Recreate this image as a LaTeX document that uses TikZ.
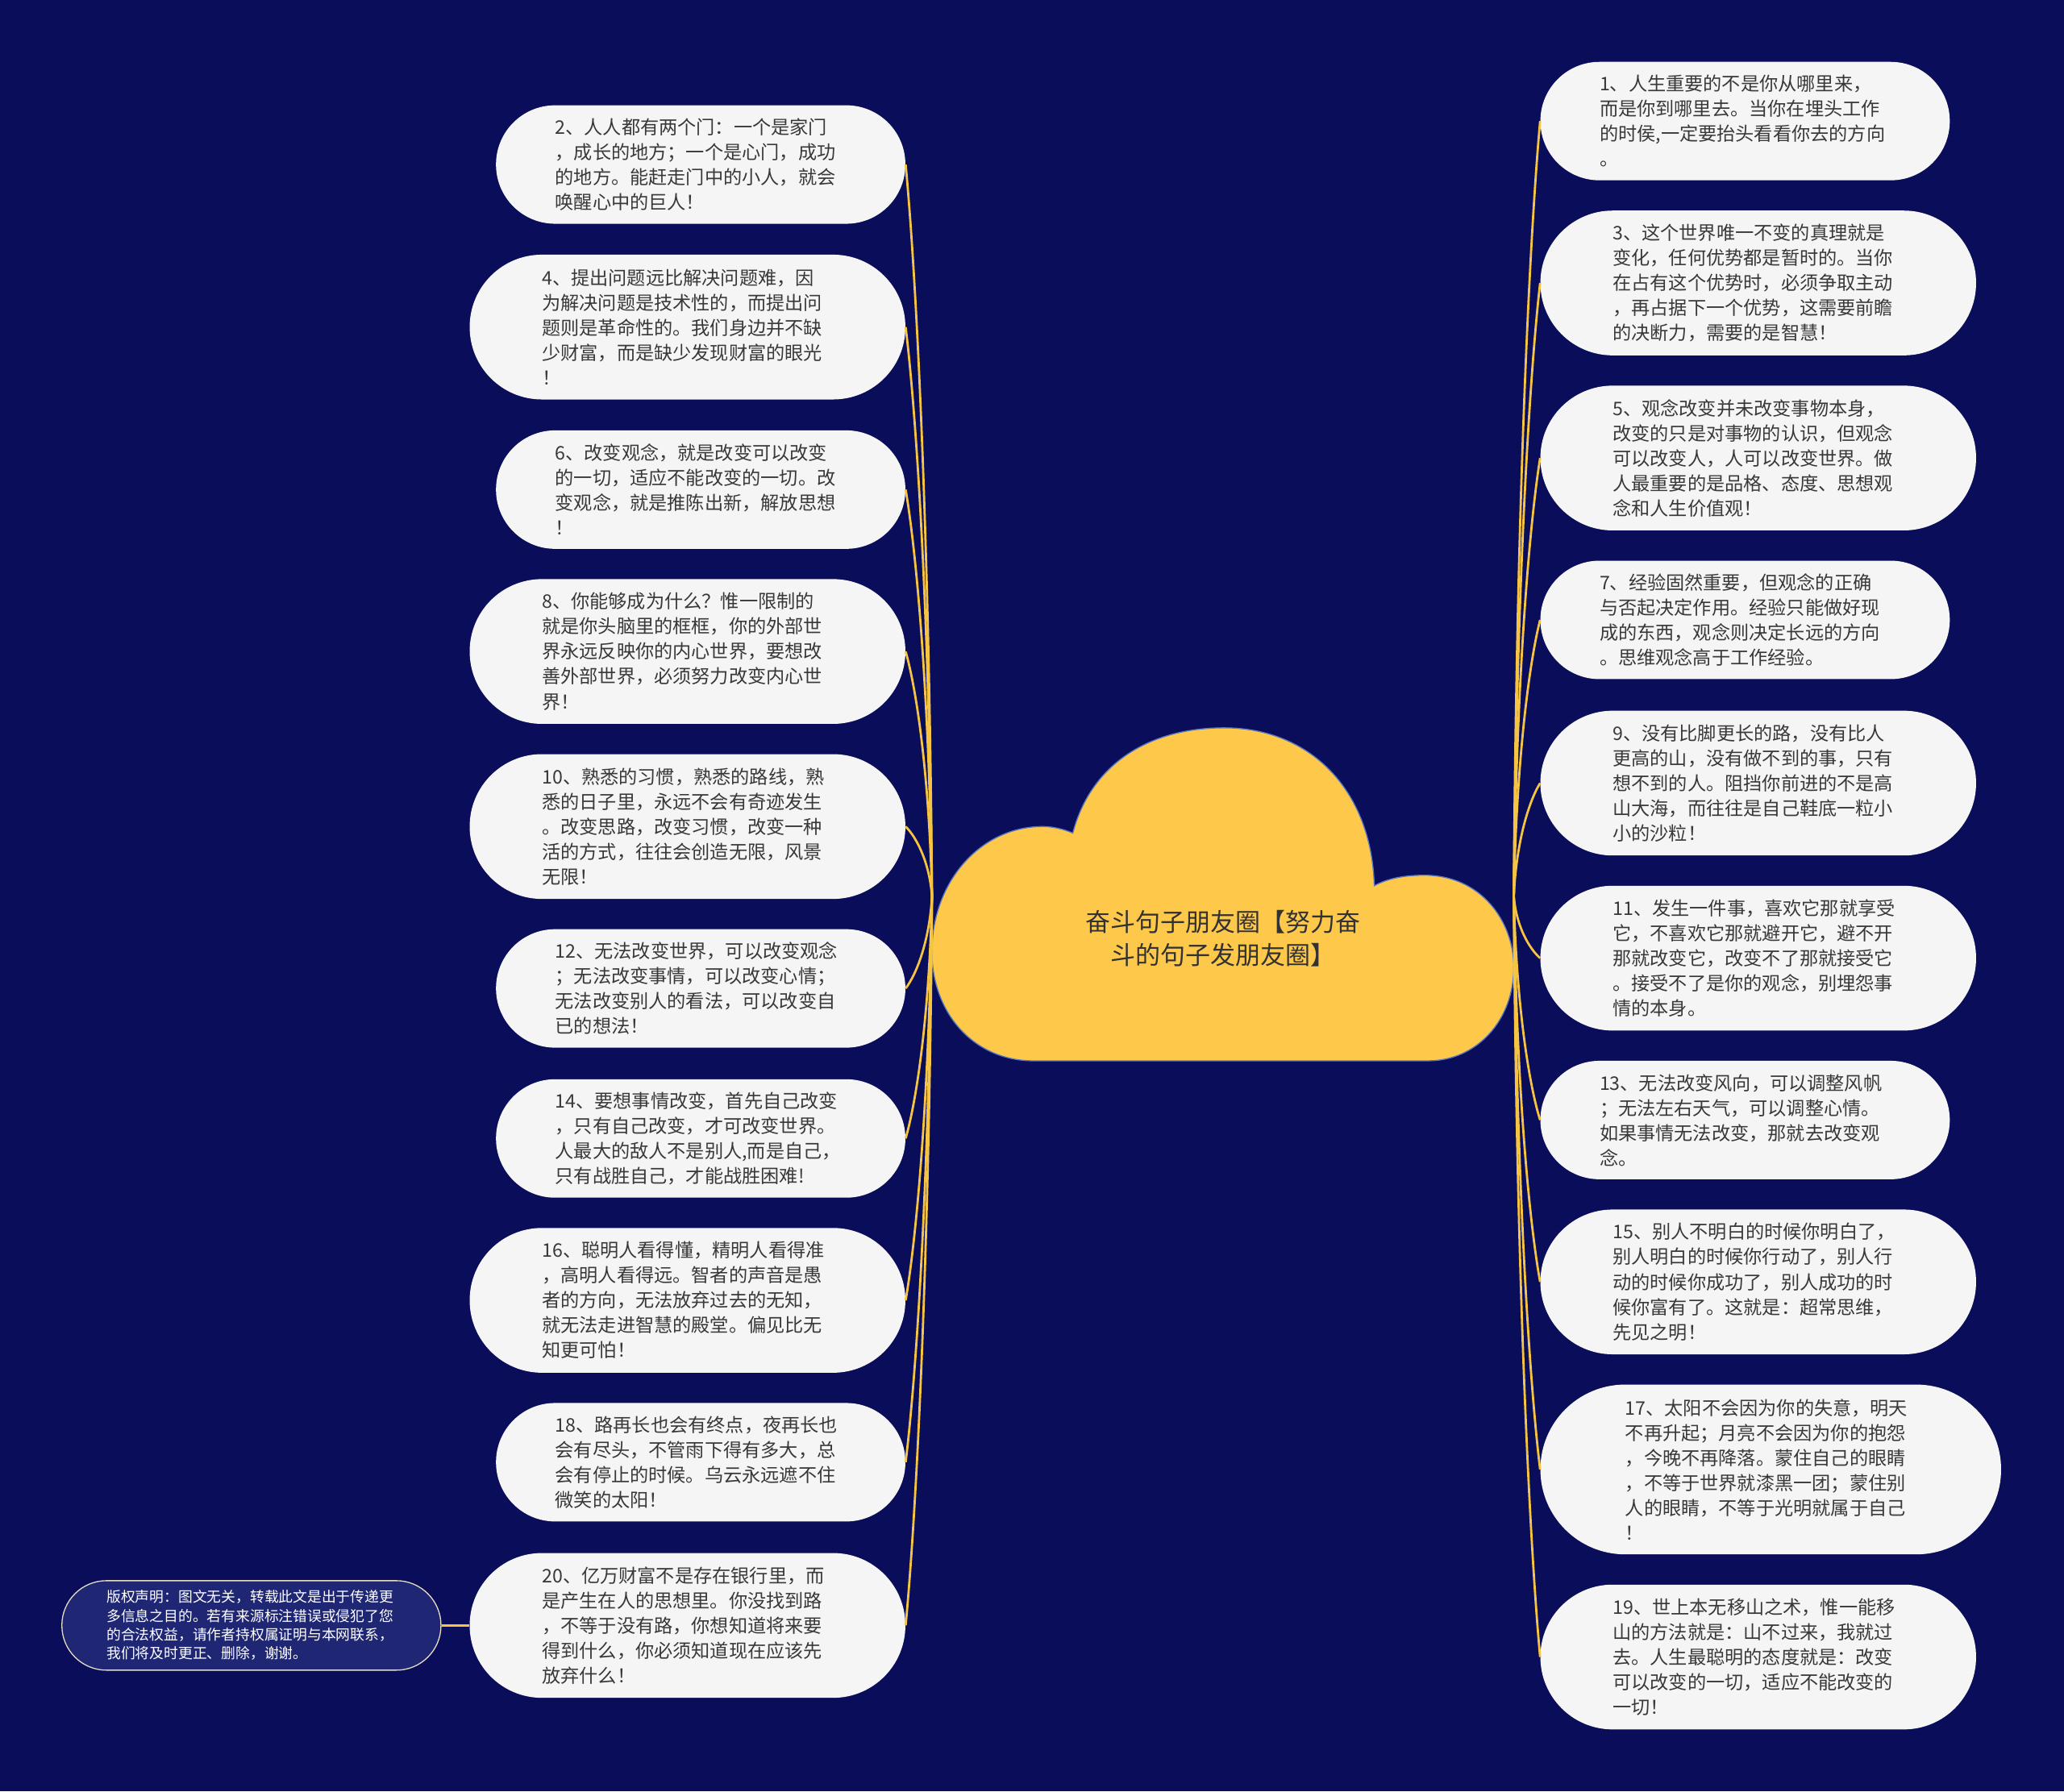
\documentclass[tikz,border=0pt]{standalone}
\usepackage{fontspec}
\setmainfont{Noto Sans CJK SC}
\definecolor{bg}{HTML}{0A0E5A}
\definecolor{nodefill}{HTML}{F5F5F5}
\definecolor{txt}{HTML}{383838}
\definecolor{linkc}{HTML}{F5C443}
\definecolor{cloudfill}{HTML}{FEC84B}
\definecolor{cloudline}{HTML}{5A78C0}
\definecolor{cpfill}{HTML}{1F2775}
\definecolor{cpline}{HTML}{E6DCC0}
\tikzset{
  basepill/.style={fill=nodefill, draw=none, inner ysep=0pt, text width=221pt, align=left,
    font=\fontsize{14.2}{19}\selectfont, text=txt},
  pfour/.style={basepill, minimum height=90pt, inner xsep=45pt, rounded corners=44.9pt},
  pfive/.style={basepill, minimum height=110pt, inner xsep=55pt, rounded corners=54.9pt},
  psix/.style={basepill, minimum height=129pt, inner xsep=64.5pt, rounded corners=64.4pt},
  linkline/.style={draw=linkc, line width=1.7pt},
  cloudshape/.style={fill=cloudfill, draw=cloudline, line width=0.8pt},
  cpbox/.style={fill=cpfill, draw=cpline, line width=0.8pt, minimum height=68pt, inner xsep=34pt,
    inner ysep=0pt, text width=220pt, align=left, rounded corners=33.9pt,
    font=\fontsize{10.9}{14.3}\selectfont, text=white},
  roottext/.style={align=center, font=\fontsize{19}{25}\selectfont, text=txt!90!black}
}
\begin{document}
\begin{tikzpicture}[x=1pt,y=-1pt]
\useasboundingbox (0,0) rectangle (1568,1361);
\fill[bg] (0,0) rectangle (1568,1361);

% central cloud
\path[cloudshape] (785,806) .. controls (740,806) and (708,770) .. (708,723)
  .. controls (708,670) and (745,628) .. (792,628)
  .. controls (800,628) and (808,630) .. (815,633)
  .. controls (828,583) and (870,553) .. (930,553)
  .. controls (995,553) and (1042,600) .. (1044,673)
  .. controls (1055,667) and (1068,665) .. (1082,665)
  .. controls (1125,665) and (1150,700) .. (1150,735)
  .. controls (1150,775) and (1122,806) .. (1085,806)
  -- cycle;
\node[roottext] (root) at (929,713) {奋斗句子朋友圈【努力奋\\斗的句子发朋友圈】};
\coordinate (rootL) at (708,681);
\coordinate (rootR) at (1150,681);

% left nodes
\node[pfour,anchor=east] (L2) at (688,125) {2、人人都有两个门：一个是家门\\，成长的地方；一个是心门，成功\\的地方。能赶走门中的小人，就会\\唤醒心中的巨人！};
\node[pfive,anchor=east] (L4) at (688,248.5) {4、提出问题远比解决问题难，因\\为解决问题是技术性的，而提出问\\题则是革命性的。我们身边并不缺\\少财富，而是缺少发现财富的眼光\\！};
\node[pfour,anchor=east] (L6) at (688,372) {6、改变观念，就是改变可以改变\\的一切，适应不能改变的一切。改\\变观念，就是推陈出新，解放思想\\！};
\node[pfive,anchor=east] (L8) at (688,495) {8、你能够成为什么？惟一限制的\\就是你头脑里的框框，你的外部世\\界永远反映你的内心世界，要想改\\善外部世界，必须努力改变内心世\\界！};
\node[pfive,anchor=east] (L10) at (688,628) {10、熟悉的习惯，熟悉的路线，熟\\悉的日子里，永远不会有奇迹发生\\。改变思路，改变习惯，改变一种\\活的方式，往往会创造无限，风景\\无限！};
\node[pfour,anchor=east] (L12) at (688,751) {12、无法改变世界，可以改变观念\\；无法改变事情，可以改变心情；\\无法改变别人的看法，可以改变自\\已的想法！};
\node[pfour,anchor=east] (L14) at (688,865) {14、要想事情改变，首先自己改变\\，只有自己改变，才可改变世界。\\人最大的敌人不是别人,而是自己，\\只有战胜自己，才能战胜困难!};
\node[pfive,anchor=east] (L16) at (688,988) {16、聪明人看得懂，精明人看得准\\，高明人看得远。智者的声音是愚\\者的方向，无法放弃过去的无知，\\就无法走进智慧的殿堂。偏见比无\\知更可怕！};
\node[pfour,anchor=east] (L18) at (688,1111) {18、路再长也会有终点，夜再长也\\会有尽头，不管雨下得有多大，总\\会有停止的时候。乌云永远遮不住\\微笑的太阳！};
\node[pfive,anchor=east] (L20) at (688,1235) {20、亿万财富不是存在银行里，而\\是产生在人的思想里。你没找到路\\，不等于没有路，你想知道将来要\\得到什么，你必须知道现在应该先\\放弃什么！};

% right nodes
\node[pfour,anchor=west] (R1) at (1170,92) {1、人生重要的不是你从哪里来，\\而是你到哪里去。当你在埋头工作\\的时侯,一定要抬头看看你去的方向\\。};
\node[pfive,anchor=west] (R3) at (1170,215) {3、这个世界唯一不变的真理就是\\变化，任何优势都是暂时的。当你\\在占有这个优势时，必须争取主动\\，再占据下一个优势，这需要前瞻\\的决断力，需要的是智慧！};
\node[pfive,anchor=west] (R5) at (1170,348) {5、观念改变并未改变事物本身，\\改变的只是对事物的认识，但观念\\可以改变人，人可以改变世界。做\\人最重要的是品格、态度、思想观\\念和人生价值观！};
\node[pfour,anchor=west] (R7) at (1170,471) {7、经验固然重要，但观念的正确\\与否起决定作用。经验只能做好现\\成的东西，观念则决定长远的方向\\。思维观念高于工作经验。};
\node[pfive,anchor=west] (R9) at (1170,595) {9、没有比脚更长的路，没有比人\\更高的山，没有做不到的事，只有\\想不到的人。阻挡你前进的不是高\\山大海，而往往是自己鞋底一粒小\\小的沙粒！};
\node[pfive,anchor=west] (R11) at (1170,728) {11、发生一件事，喜欢它那就享受\\它，不喜欢它那就避开它，避不开\\那就改变它，改变不了那就接受它\\。接受不了是你的观念，别埋怨事\\情的本身。};
\node[pfour,anchor=west] (R13) at (1170,851) {13、无法改变风向，可以调整风帆\\；无法左右天气，可以调整心情。\\如果事情无法改变，那就去改变观\\念。};
\node[pfive,anchor=west] (R15) at (1170,974) {15、别人不明白的时候你明白了，\\别人明白的时候你行动了，别人行\\动的时候你成功了，别人成功的时\\候你富有了。这就是：超常思维，\\先见之明！};
\node[psix,anchor=west] (R17) at (1170,1116.5) {17、太阳不会因为你的失意，明天\\不再升起；月亮不会因为你的抱怨\\，今晚不再降落。蒙住自己的眼睛\\，不等于世界就漆黑一团；蒙住别\\人的眼睛，不等于光明就属于自己\\！};
\node[pfive,anchor=west] (R19) at (1170,1259) {19、世上本无移山之术，惟一能移\\山的方法就是：山不过来，我就过\\去。人生最聪明的态度就是：改变\\可以改变的一切，适应不能改变的\\一切！};

% copyright box
\node[cpbox] (cp) at (191,1235) {版权声明：图文无关，转载此文是出于传递更\\多信息之目的。若有来源标注错误或侵犯了您\\的合法权益，请作者持权属证明与本网联系，\\我们将及时更正、删除，谢谢。};

% connectors
\foreach \n/\cy in {L2/125,L4/248.5,L6/372,L8/495,L10/628,L12/751,L14/865,L16/988,L18/1111,L20/1235}
  \draw[linkline] (rootL) .. controls (706,{681+0.5*(\cy-681)}) and (696,{\cy-0.15*(\cy-681)}) .. (\n.east);
\foreach \n/\cy in {R1/92,R3/215,R5/348,R7/471,R9/595,R11/728,R13/851,R15/974,R17/1116.5,R19/1259}
  \draw[linkline] (rootR) .. controls (1152,{681+0.5*(\cy-681)}) and (1162,{\cy-0.15*(\cy-681)}) .. (\n.west);
\draw[linkline] (cp.east) -- (L20.west);
\end{tikzpicture}
\end{document}
